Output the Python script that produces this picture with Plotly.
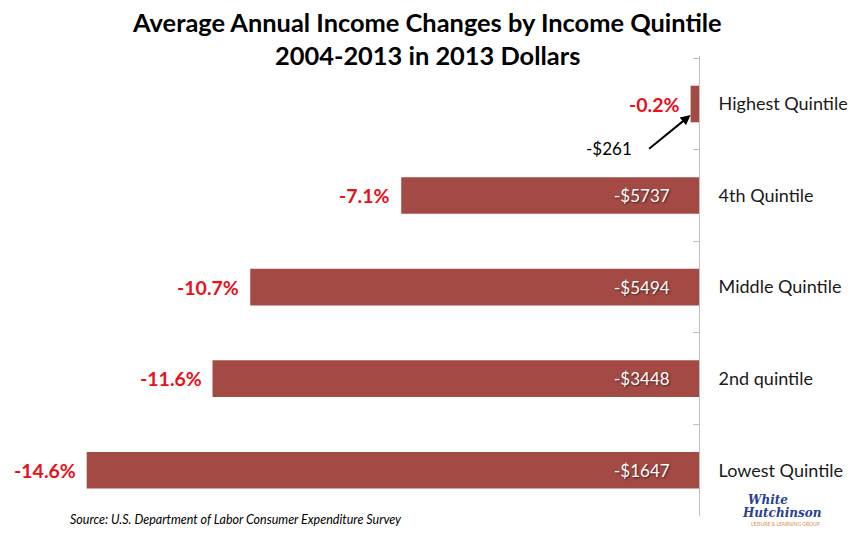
import plotly.graph_objects as go

# ---- data ----
categories = ["Highest Quintile", "4th Quintile", "Middle Quintile", "2nd quintile", "Lowest Quintile"]
pct_change = [-0.2, -7.1, -10.7, -11.6, -14.6]
dollar_change = [-261, -5737, -5494, -3448, -1647]
pct_labels = ["-0.2%", "-7.1%", "-10.7%", "-11.6%", "-14.6%"]
dollar_labels = ["-$261", "-$5737", "-$5494", "-$3448", "-$1647"]

title_line1 = "Average Annual Income Changes by Income Quintile"
title_line2 = "2004-2013 in 2013 Dollars"
source_text = "Source: U.S. Department of Labor Consumer Expenditure Survey"

# ---- layout geometry (pixels, page coordinates; page body has an 8px margin) ----
OFF = 8
W, H = 857 - 2 * OFF, 538 - 2 * OFF - 4
PL, PR, PT, PB = 0, 699 - OFF, 56 - OFF, 516 - OFF
PX_PER_UNIT = 41.94


def px_x(px):
    return (px - OFF - PL) / (PR - PL)


def px_y(py):
    return (PB - (py - OFF)) / (PB - PT)


BAR_COLOR = "#A44A45"
RED = "#E8101A"
FONT = "Lato"

fig = go.Figure()
fig.add_trace(go.Bar(
    x=pct_change,
    y=categories,
    orientation="h",
    marker=dict(color=BAR_COLOR, line=dict(width=0)),
    hoverinfo="skip",
))

annotations = []
# title
for line, py in ((title_line1, 22), (title_line2, 55)):
    annotations.append(dict(text="<b>" + line + "</b>", xref="paper", yref="paper",
                            x=px_x(427), y=px_y(py), xanchor="center", yanchor="middle",
                            showarrow=False, font=dict(family=FONT, size=25.4, color="#000000")))

# percentage labels (left of each bar)
for cat, v, lab in zip(categories, pct_change, pct_labels):
    annotations.append(dict(text="<b>" + lab + "</b>", x=v, y=cat, xref="x", yref="y",
                            xanchor="right", yanchor="middle", xshift=-9,
                            showarrow=False, font=dict(family=FONT, size=19.5, color=RED)))

# dollar labels inside bars (except highest, which is called out)
for i, (cat, lab) in enumerate(zip(categories, dollar_labels)):
    if i == 0:
        continue
    annotations.append(dict(text=lab, x=0, y=cat, xref="x", yref="y",
                            xanchor="right", yanchor="middle", xshift=-27,
                            showarrow=False,
                            font=dict(family=FONT, size=17, color="#ffffff",
                                      shadow="1px 1px 2px rgba(0,0,0,0.6)")))

# call-out for highest quintile
annotations.append(dict(text="", x=pct_change[0], y=categories[0], xref="x", yref="y",
                        yshift=-11, showarrow=True, arrowhead=2, arrowsize=1,
                        arrowwidth=2, arrowcolor="#000000", ax=-43, ay=35,
                        standoff=0, startstandoff=0))
annotations.append(dict(text=dollar_labels[0], xref="paper", yref="paper",
                        x=px_x(609), y=px_y(148), xanchor="center", yanchor="middle",
                        showarrow=False, font=dict(family=FONT, size=17, color="#000000")))

# source
annotations.append(dict(text="<i>" + source_text + "</i>", xref="paper", yref="paper",
                        x=px_x(68), y=px_y(519), xanchor="left", yanchor="middle",
                        showarrow=False, font=dict(family=FONT, size=12.5, color="#000000")))

# logo text
annotations.append(dict(text="<b><i>White</i></b>", xref="paper", yref="paper",
                        x=px_x(768), y=px_y(500), xanchor="center", yanchor="middle",
                        showarrow=False, font=dict(family="DejaVu Serif", size=12, color="#2B3F8F")))
annotations.append(dict(text="<b><i>Hutchinson</i></b>", xref="paper", yref="paper",
                        x=px_x(782), y=px_y(513), xanchor="center", yanchor="middle",
                        showarrow=False, font=dict(family="DejaVu Serif", size=12, color="#2B3F8F")))
annotations.append(dict(text="LEISURE & LEARNING GROUP", xref="paper", yref="paper",
                        x=px_x(785), y=px_y(524), xanchor="center", yanchor="middle",
                        showarrow=False, font=dict(family=FONT, size=5, color="#D98A4A")))

fig.update_layout(
    width=W, height=H,
    margin=dict(l=PL, r=W - PR, t=PT, b=H - PB, pad=0),
    paper_bgcolor="#ffffff", plot_bgcolor="#ffffff",
    showlegend=False,
    bargap=0.6,
    font=dict(family=FONT, color="#000000"),
    xaxis=dict(range=[-(PR - PL) / PX_PER_UNIT, 0], visible=False, showgrid=False,
               zeroline=False, fixedrange=True),
    yaxis=dict(
        type="category",
        categoryorder="array", categoryarray=categories,
        autorange="reversed",
        side="right",
        showline=True, linecolor="#BFBFBF", linewidth=1,
        ticks="inside", ticklen=6, tickcolor="#BFBFBF", tickson="boundaries",
        ticklabelstandoff=15,
        tickfont=dict(family=FONT, size=18, color="#1a1a1a"),
        showgrid=False, zeroline=False, fixedrange=True,
    ),
    annotations=annotations,
)

fig.write_html("out.html")
